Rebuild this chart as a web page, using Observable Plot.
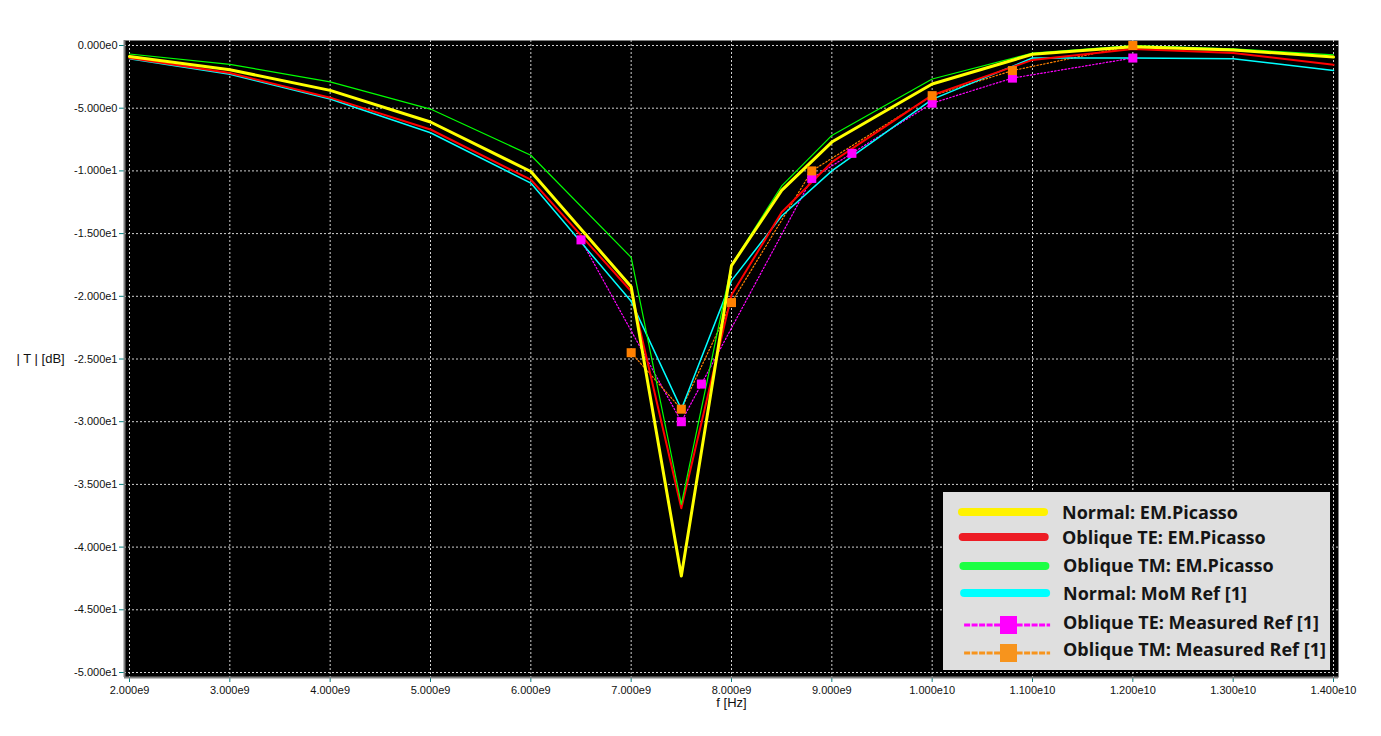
<!DOCTYPE html>
<html>
<head>
<meta charset="utf-8">
<script src="https://cdn.jsdelivr.net/npm/d3@7"></script>
<script src="https://cdn.jsdelivr.net/npm/@observablehq/plot@0.6"></script>
<style>
  body { margin: 0; background: #fff; }
  #wrap { position: relative; width: 1381px; height: 736px; overflow: hidden; }
  #legend { position: absolute; left: 943px; top: 492px; width: 387px; height: 178px; background: #dfdfdf; }
  #legend svg { display: block; }
</style>
</head>
<body>
<div id="wrap"><div id="chart"></div><div id="legend"></div></div>
<script>
// ---- data ----
const simFreq = [2e9, 3e9, 4e9, 5e9, 6e9, 7e9, 7.5e9, 8e9, 8.5e9, 9e9, 1e10, 1.1e10, 1.2e10, 1.3e10, 1.4e10];
const normalPicasso    = [-0.88, -1.93, -3.58, -6.10, -10.05, -19.24, -42.3, -17.55, -11.55, -7.70, -3.07, -0.70, -0.10, -0.35, -0.92];
const obliqueTEPicasso = [-1.00, -2.20, -4.16, -6.70, -10.70, -19.60, -36.9, -19.90, -13.30, -9.30, -3.96, -1.15, -0.27, -0.60, -1.54];
const obliqueTMPicasso = [-0.68, -1.50, -2.90, -5.07, -8.75, -16.90, -36.6, -17.50, -11.20, -7.17, -2.67, -0.60, 0.00, -0.27, -0.74];
const normalMoM        = [-1.05, -2.30, -4.27, -6.96, -10.97, -20.40, -29.0, -18.75, -13.60, -10.00, -4.30, -1.00, -1.00, -1.06, -2.00];

const measTEFreq = [6.5e9, 7.5e9, 7.7e9, 8.8e9, 9.2e9, 1e10, 1.08e10, 1.2e10];
const measTE     = [-15.5, -30.0, -27.0, -10.6, -8.6, -4.6, -2.6, -1.0];
const measTMFreq = [7e9, 7.5e9, 8e9, 8.8e9, 1e10, 1.08e10, 1.2e10];
const measTM     = [-24.5, -29.0, -20.5, -10.0, -4.0, -2.0, 0.0];

const xTicks = [2e9, 3e9, 4e9, 5e9, 6e9, 7e9, 8e9, 9e9, 1e10, 1.1e10, 1.2e10, 1.3e10, 1.4e10];
const xTickLabels = ["2.000e9", "3.000e9", "4.000e9", "5.000e9", "6.000e9", "7.000e9", "8.000e9", "9.000e9",
                     "1.000e10", "1.100e10", "1.200e10", "1.300e10", "1.400e10"];
const yTicks = [0, -5, -10, -15, -20, -25, -30, -35, -40, -45, -50];
const yTickLabels = ["0.000e0", "-5.000e0", "-1.000e1", "-1.500e1", "-2.000e1", "-2.500e1",
                     "-3.000e1", "-3.500e1", "-4.000e1", "-4.500e1", "-5.000e1"];

const legendLabels = ["Normal: EM.Picasso", "Oblique TE: EM.Picasso", "Oblique TM: EM.Picasso",
                      "Normal: MoM Ref [1]", "Oblique TE: Measured Ref [1]", "Oblique TM: Measured Ref [1]"];

// ---- build tables ----
const toRows = (fs, vs) => fs.map((f, i) => ({f, v: vs[i]}));
const yellowRows = toRows(simFreq, normalPicasso);
const redRows = toRows(simFreq, obliqueTEPicasso);
const greenRows = toRows(simFreq, obliqueTMPicasso);
const cyanRows = toRows(simFreq, normalMoM);
const teRows = toRows(measTEFreq, measTE);
const tmRows = toRows(measTMFreq, measTM);

const chart = Plot.plot({
  width: 1381,
  height: 736,
  marginLeft: 124,
  marginRight: 43,
  marginTop: 40,
  marginBottom: 59,
  inset: 5,
  x: {domain: [2e9, 1.4e10], ticks: xTicks, tickSize: 5, tickPadding: 4, label: null,
      tickFormat: d => xTickLabels[xTicks.indexOf(d)]},
  y: {domain: [-50, 0], ticks: yTicks, tickSize: 5, tickPadding: 2, label: null,
      tickFormat: d => yTickLabels[yTicks.indexOf(d)]},
  style: {fontFamily: "'Liberation Sans', Arial, sans-serif", fontSize: "11px", background: "white", color: "#111", overflow: "visible"},
  marks: [
    Plot.frame({fill: "black", stroke: null}),
    Plot.ruleX(xTicks, {stroke: "#d0d0d0", strokeWidth: 1, strokeDasharray: "2,2"}),
    Plot.ruleY(yTicks, {stroke: "#d0d0d0", strokeWidth: 1, strokeDasharray: "2,2"}),
    Plot.ruleX([2e9], {dx: -5, stroke: "#808080", strokeWidth: 2}),
    Plot.ruleY([-50], {dy: 5, stroke: "#808080", strokeWidth: 2}),
    Plot.line(teRows, {x: "f", y: "v", stroke: "#ff00ff", strokeWidth: 1.2, strokeDasharray: "1.5,2"}),
    Plot.line(tmRows, {x: "f", y: "v", stroke: "#ff8000", strokeWidth: 1.2, strokeDasharray: "1.5,2"}),
    Plot.line(cyanRows, {x: "f", y: "v", stroke: "#00ffff", strokeWidth: 1.5}),
    Plot.line(redRows, {x: "f", y: "v", stroke: "#ff0000", strokeWidth: 2}),
    Plot.line(greenRows, {x: "f", y: "v", stroke: "#00ff00", strokeWidth: 1.2}),
    Plot.line(yellowRows, {x: "f", y: "v", stroke: "#ffff00", strokeWidth: 3}),
    Plot.dot(teRows, {x: "f", y: "v", symbol: "square", r: 5.1, fill: "#ff00ff", stroke: null}),
    Plot.dot(tmRows, {x: "f", y: "v", symbol: "square", r: 5.1, fill: "#ff8000", stroke: null}),
    Plot.text(["| T | [dB]"], {frameAnchor: "left", dx: -108, textAnchor: "start", fontSize: 13, fill: "#111"}),
    Plot.text(["f [Hz]"], {frameAnchor: "bottom", dy: 29, fontSize: 13, fill: "#111"})
  ]
});
document.getElementById("chart").appendChild(chart);

// colour the axis tick marks teal (labels stay dark)
const csvg = d3.select(chart);
csvg.selectAll('[aria-label="x-axis tick"], [aria-label="y-axis tick"]').attr("stroke", "#008080");
csvg.selectAll('[aria-label="x-axis tick"] path, [aria-label="y-axis tick"] path').attr("stroke", "#008080");
csvg.selectAll('[aria-label="x-axis"] line, [aria-label="y-axis"] line').attr("stroke", "#008080");

// ---- legend ----
const legendColors = ["#fff200", "#ed1c24", "#1cff44", "#00ffff", "#ff00ff", "#f7941d"];
const lineY = [20, 45, 74, 101, 133, 161];
const textY = [20, 45, 73, 101, 130, 157];
const lsvg = d3.select("#legend").append("svg").attr("width", 387).attr("height", 178);
legendLabels.forEach((lab, i) => {
  const measured = i >= 4;
  lsvg.append("line")
    .attr("x1", 19 + Math.min(i, 3) * 0.7).attr("x2", 101 + Math.min(i, 3) * 0.7 + (measured ? 4 : 0))
    .attr("y1", lineY[i]).attr("y2", lineY[i])
    .attr("stroke", legendColors[i])
    .attr("stroke-width", measured ? 3 : 8)
    .attr("stroke-linecap", measured ? "butt" : "round")
    .attr("stroke-dasharray", measured ? "6,1.5" : null);
  if (measured) {
    lsvg.append("rect").attr("x", 57).attr("y", lineY[i] - 9).attr("width", 17).attr("height", 18)
      .attr("fill", legendColors[i]);
  }
  lsvg.append("text")
    .attr("x", 119 + (i >= 2 ? 1 : 0)).attr("y", textY[i])
    .attr("dominant-baseline", "central")
    .attr("font-family", "'Open Sans', Lato, sans-serif")
    .attr("font-weight", "bold")
    .attr("font-size", "18px")
    .attr("fill", "#151515")
    .text(lab);
});
</script>
</body>
</html>
